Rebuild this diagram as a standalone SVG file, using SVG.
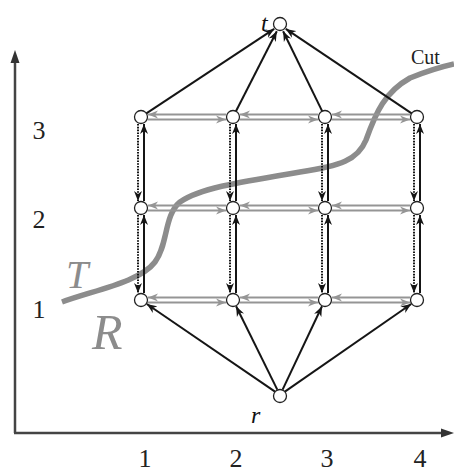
<svg xmlns="http://www.w3.org/2000/svg" width="454" height="474" viewBox="0 0 454 474">
<style>
.k{stroke:#151515;stroke-width:2;fill:none;marker-end:url(#ak)}
.d{stroke:#151515;stroke-width:2;fill:none;stroke-dasharray:1.6 1.2;marker-end:url(#ak)}
.g{stroke:#959595;stroke-width:2;fill:none;marker-end:url(#ag)}
.n{fill:#fff;stroke:#222;stroke-width:1.3}
.lab{font-family:"Liberation Serif",serif;fill:#222}
.it{font-family:"Liberation Serif",serif;font-style:italic}
</style>
<defs>
<marker id="ak" markerUnits="userSpaceOnUse" markerWidth="11" markerHeight="9" refX="10" refY="4.5" orient="auto"><path d="M0,0.5 L10,4.5 L0,8.5 L3,4.5 z" fill="#151515"/></marker>
<marker id="ag" markerUnits="userSpaceOnUse" markerWidth="11" markerHeight="9" refX="10" refY="4.5" orient="auto"><path d="M0,0.5 L10,4.5 L0,8.5 L3,4.5 z" fill="#959595"/></marker>
</defs>
<g id="axes" stroke="#444" stroke-width="2.5" fill="#333">
<line x1="15" y1="433" x2="15" y2="60"/>
<path d="M15,50 L10.5,63 L19.5,63 z" stroke="none"/>
<line x1="14" y1="433" x2="444" y2="433"/>
<path d="M454,433 L441,428.5 L441,437.5 z" stroke="none"/>
</g>
<g id="cut">
<path d="M62,302 C95,290 140,282 155,262 C168,245 164,215 180,202 C200,188 240,182 300,172 C340,166 358,160 366,140 C376,112 385,92 410,78 C430,70 445,66 454,64" stroke="#8c8c8c" stroke-width="5.5" fill="none"/>
</g>
<g id="connectors">
<line class="k" x1="146" y1="113.7" x2="274.2" y2="28.9"/>
<line class="k" x1="235.7" y1="111.7" x2="276.8" y2="31.2"/>
<line class="k" x1="322.4" y1="111.6" x2="283.1" y2="31.3"/>
<line class="k" x1="412" y1="113.7" x2="285.8" y2="28.9"/>
<line class="k" x1="275" y1="391.6" x2="146.8" y2="304"/>
<line class="k" x1="277.3" y1="389.6" x2="236.1" y2="306.3"/>
<line class="k" x1="282.6" y1="389.6" x2="322" y2="306.3"/>
<line class="k" x1="284.9" y1="391.6" x2="411.2" y2="304"/>
<line class="g" x1="226" y1="114.5" x2="148" y2="114.5"/><line class="g" x1="148" y1="119.5" x2="226" y2="119.5"/>
<line class="g" x1="318" y1="114.5" x2="240" y2="114.5"/><line class="g" x1="240" y1="119.5" x2="318" y2="119.5"/>
<line class="g" x1="410" y1="114.5" x2="332" y2="114.5"/><line class="g" x1="332" y1="119.5" x2="410" y2="119.5"/>
<line class="g" x1="226" y1="205.5" x2="148" y2="205.5"/><line class="g" x1="148" y1="210.5" x2="226" y2="210.5"/>
<line class="g" x1="318" y1="205.5" x2="240" y2="205.5"/><line class="g" x1="240" y1="210.5" x2="318" y2="210.5"/>
<line class="g" x1="410" y1="205.5" x2="332" y2="205.5"/><line class="g" x1="332" y1="210.5" x2="410" y2="210.5"/>
<line class="g" x1="226" y1="297.5" x2="148" y2="297.5"/><line class="g" x1="148" y1="302.5" x2="226" y2="302.5"/>
<line class="g" x1="318" y1="297.5" x2="240" y2="297.5"/><line class="g" x1="240" y1="302.5" x2="318" y2="302.5"/>
<line class="g" x1="410" y1="297.5" x2="332" y2="297.5"/><line class="g" x1="332" y1="302.5" x2="410" y2="302.5"/>
<line class="d" x1="138" y1="124" x2="138" y2="201"/><line class="k" x1="144" y1="201" x2="144" y2="124"/>
<line class="d" x1="230" y1="124" x2="230" y2="201"/><line class="k" x1="236" y1="201" x2="236" y2="124"/>
<line class="d" x1="322" y1="124" x2="322" y2="201"/><line class="k" x1="328" y1="201" x2="328" y2="124"/>
<line class="d" x1="414" y1="124" x2="414" y2="201"/><line class="k" x1="420" y1="201" x2="420" y2="124"/>
<line class="d" x1="138" y1="215" x2="138" y2="293"/><line class="k" x1="144" y1="293" x2="144" y2="215"/>
<line class="d" x1="230" y1="215" x2="230" y2="293"/><line class="k" x1="236" y1="293" x2="236" y2="215"/>
<line class="d" x1="322" y1="215" x2="322" y2="293"/><line class="k" x1="328" y1="293" x2="328" y2="215"/>
<line class="d" x1="414" y1="215" x2="414" y2="293"/><line class="k" x1="420" y1="293" x2="420" y2="215"/>
</g>
<g id="node-t"><circle class="n" cx="280" cy="24" r="6.5"/></g>
<g id="node-r"><circle class="n" cx="280" cy="396" r="6.5"/></g>
<g id="node-1-3"><circle class="n" cx="141" cy="117" r="6.5"/></g>
<g id="node-2-3"><circle class="n" cx="233" cy="117" r="6.5"/></g>
<g id="node-3-3"><circle class="n" cx="325" cy="117" r="6.5"/></g>
<g id="node-4-3"><circle class="n" cx="417" cy="117" r="6.5"/></g>
<g id="node-1-2"><circle class="n" cx="141" cy="208" r="6.5"/></g>
<g id="node-2-2"><circle class="n" cx="233" cy="208" r="6.5"/></g>
<g id="node-3-2"><circle class="n" cx="325" cy="208" r="6.5"/></g>
<g id="node-4-2"><circle class="n" cx="417" cy="208" r="6.5"/></g>
<g id="node-1-1"><circle class="n" cx="141" cy="300" r="6.5"/></g>
<g id="node-2-1"><circle class="n" cx="233" cy="300" r="6.5"/></g>
<g id="node-3-1"><circle class="n" cx="325" cy="300" r="6.5"/></g>
<g id="node-4-1"><circle class="n" cx="417" cy="300" r="6.5"/></g>
<g id="labels">
<text class="it" x="261" y="31" font-size="24" fill="#111">t</text>
<text class="it" x="251" y="423" font-size="24" fill="#111">r</text>
<text class="lab" x="411" y="64" font-size="20">Cut</text>
<text class="it" x="66" y="288" font-size="40" fill="#8c8c8c">T</text>
<text class="it" x="92" y="349" font-size="50" fill="#8c8c8c">R</text>
<g class="lab" font-size="26" text-anchor="middle">
<text x="39" y="139">3</text>
<text x="39" y="228">2</text>
<text x="39" y="318">1</text>
<text x="145" y="467">1</text>
<text x="236" y="467">2</text>
<text x="327" y="467">3</text>
<text x="420" y="467">4</text>
</g>
</g>
</svg>
